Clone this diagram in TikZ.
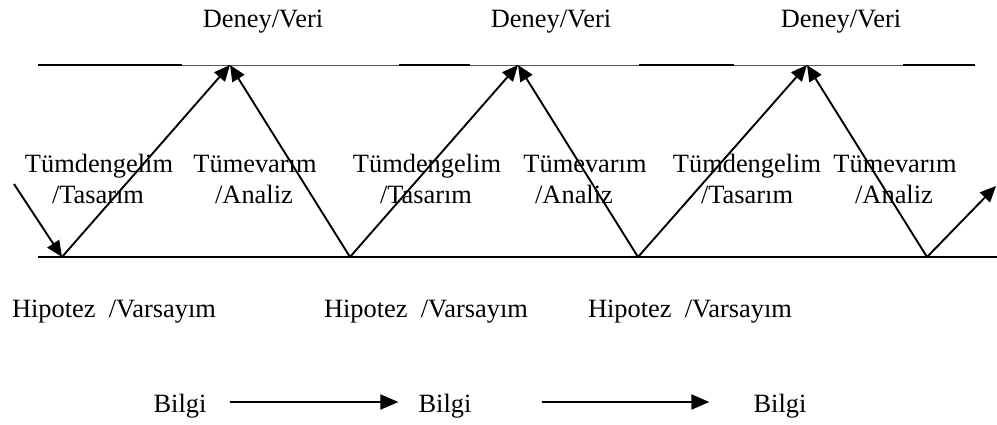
\documentclass[tikz,border=0pt]{standalone}
\usepackage{fontspec}
\setmainfont{Liberation Serif}
\usetikzlibrary{arrows.meta}
\begin{document}
\begin{tikzpicture}[x=1pt,y=-1pt,
  lbl/.style={inner sep=0pt,anchor=base,font=\fontsize{26.4pt}{31pt}\selectfont},
  conn/.style={line width=1.9pt,black},
  tip/.style={-{Triangle[length=16pt,width=14pt]}},
  rail/.style={line width=1pt,black!65},
  railbold/.style={line width=2pt,black}]
\useasboundingbox (0,0) rectangle (997,424);

% apex and base points of the zigzag
\coordinate (t1) at (230,65);
\coordinate (t2) at (518,65);
\coordinate (t3) at (807,65);
\coordinate (b0) at (62,257);
\coordinate (b1) at (350,257);
\coordinate (b2) at (638,257);
\coordinate (b3) at (927,257);
\coordinate (in) at (14,184);
\coordinate (out) at (996,186);

% upper rail: thin line with heavier pieces
\coordinate (rl) at (38,65);
\coordinate (rr) at (975,65);
\draw[rail] (rl) -- (rr);
\draw[railbold] (38,65) -- (182,65);
\draw[railbold] (399,65) -- (470,65);
\draw[railbold] (639,65) -- (734,65);
\draw[railbold] (903,65) -- (975,65);

% lower rail
\coordinate (ll) at (38,257);
\coordinate (lr) at (997,257);
\draw[conn] (ll) -- (lr);

% zigzag arrows
\draw[conn,tip] (in) -- (b0);
\draw[conn,tip] (b0) -- (t1);
\draw[conn,tip] (b1) -- (t1);
\draw[conn,tip] (b1) -- (t2);
\draw[conn,tip] (b2) -- (t2);
\draw[conn,tip] (b2) -- (t3);
\draw[conn,tip] (b3) -- (t3);
\draw[conn,tip] (b3) -- (out);

% labels above the upper rail
\node[lbl] (d1) at (263,27) {Deney/Veri};
\node[lbl] (d2) at (551,27) {Deney/Veri};
\node[lbl] (d3) at (841,27) {Deney/Veri};

% labels between the rails
\node[lbl] (td1) at (99,172) {Tümdengelim};
\node[lbl] (ts1) at (98,203) {/Tasarım};
\node[lbl] (tv1) at (255,172) {Tümevarım};
\node[lbl] (an1) at (254,203) {/Analiz};
\node[lbl] (td2) at (427,172) {Tümdengelim};
\node[lbl] (ts2) at (426,203) {/Tasarım};
\node[lbl] (tv2) at (585,172) {Tümevarım};
\node[lbl] (an2) at (574,203) {/Analiz};
\node[lbl] (td3) at (747,172) {Tümdengelim};
\node[lbl] (ts3) at (747,203) {/Tasarım};
\node[lbl] (tv3) at (895,172) {Tümevarım};
\node[lbl] (an3) at (894,203) {/Analiz};

% labels below the lower rail
\node[lbl] (h1) at (114,317) {Hipotez\ \ /Varsayım};
\node[lbl] (h2) at (426,317) {Hipotez\ \ /Varsayım};
\node[lbl] (h3) at (690,317) {Hipotez\ \ /Varsayım};

% knowledge chain
\node[lbl] (g1) at (180,412) {Bilgi};
\node[lbl] (g2) at (445,412) {Bilgi};
\node[lbl] (g3) at (780,412) {Bilgi};
\draw[line width=1.9pt,-{Triangle[length=18pt,width=15pt]},shorten <=23pt,shorten >=20pt]
  (g1.east |- 0,402) -- (g2.west |- 0,402);
\draw[line width=1.9pt,-{Triangle[length=18pt,width=15pt]},shorten <=70pt,shorten >=44pt]
  (g2.east |- 0,402) -- (g3.west |- 0,402);
\end{tikzpicture}
\end{document}
